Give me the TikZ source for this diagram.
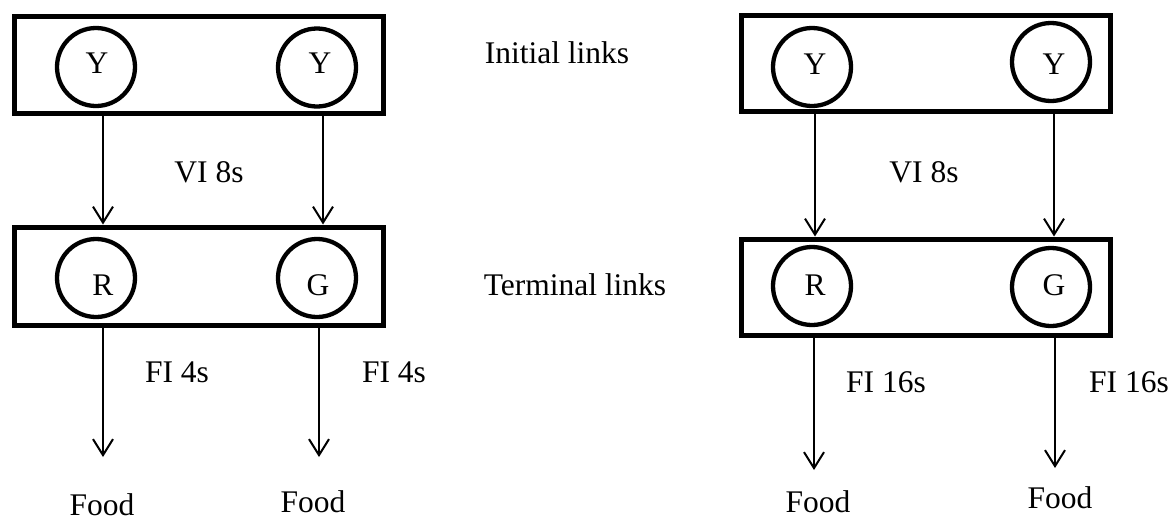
\documentclass[tikz,border=0pt]{standalone}
\usepackage{fontspec}
\setmainfont{Liberation Serif}
\usetikzlibrary{arrows.meta}
\begin{document}
\begin{tikzpicture}[x=1pt,y=-1pt,
  panel/.style={draw, rectangle, line width=5pt, minimum width=369pt, inner sep=0pt},
  stim/.style={draw, circle, line width=4.3pt, minimum size=78pt, inner sep=0pt},
  lbl/.style={anchor=base, inner sep=0pt, font=\fontsize{31.5}{37}\selectfont},
  arr/.style={line width=2pt, -{Straight Barb[length=16pt,width=20pt,line width=2pt]}}
]
\useasboundingbox (0,0) rectangle (1175,520);

% boxes
\node[panel, minimum height=97pt] (topL) at (199,64.5) {};
\node[panel, minimum height=98pt] (botL) at (199,276) {};
\node[panel, minimum height=96pt] (topR) at (925.5,63) {};
\node[panel, minimum height=96pt] (botR) at (925.5,287) {};

% circles
\node[stim] (yL1) at (96,67) {};
\node[stim] (yL2) at (317,67.5) {};
\node[stim] (rL) at (96,278) {};
\node[stim] (gL) at (317,278) {};
\node[stim] (yR1) at (812,67) {};
\node[stim] (yR2) at (1051,62) {};
\node[stim] (rR) at (812,286) {};
\node[stim] (gR) at (1051,287) {};

% letters
\node[lbl] (tyL1) at (97,73) {Y};
\node[lbl] (tyL2) at (320,73) {Y};
\node[lbl] (trL) at (103,295) {R};
\node[lbl] (tgL) at (318,295) {G};
\node[lbl] (tyR1) at (815,74) {Y};
\node[lbl] (tyR2) at (1054,74) {Y};
\node[lbl] (trR) at (815,295) {R};
\node[lbl] (tgR) at (1054,295) {G};

% x positions of connectors
\coordinate (xa) at (103,0);
\coordinate (xb) at (323,0);
\coordinate (xc) at (319,0);
\coordinate (xd) at (815,0);
\coordinate (xe) at (1054,0);
\coordinate (xf) at (814,0);
\coordinate (xg) at (1055,0);

% free ends
\coordinate (fa) at (103,457);
\coordinate (fb) at (319,457);
\coordinate (fc) at (814,470);
\coordinate (fd) at (1055,468);

% connectors
\draw[arr] (topL.south -| xa) -- (botL.north -| xa);
\draw[arr] (topL.south -| xb) -- (botL.north -| xb);
\draw[arr] (botL.south -| xa) -- (fa);
\draw[arr] (botL.south -| xc) -- (fb);
\draw[arr] (topR.south -| xd) -- (botR.north -| xd);
\draw[arr] (topR.south -| xe) -- (botR.north -| xe);
\draw[arr] (botR.south -| xf) -- (fc);
\draw[arr] (botR.south -| xg) -- (fd);

% labels
\node[lbl] (vi1) at (209,182) {VI 8s};
\node[lbl] (vi2) at (924,182) {VI 8s};
\node[lbl] (fi1) at (177,382) {FI 4s};
\node[lbl] (fi2) at (394,382) {FI 4s};
\node[lbl] (fi3) at (886,392) {FI 16s};
\node[lbl] (fi4) at (1129,392) {FI 16s};
\node[lbl] (food1) at (102,515) {Food};
\node[lbl] (food2) at (313,512) {Food};
\node[lbl] (food3) at (818,512) {Food};
\node[lbl] (food4) at (1060,508) {Food};
\node[lbl] (init) at (557,63) {Initial links};
\node[lbl] (term) at (575,295) {Terminal links};
\end{tikzpicture}
\end{document}
